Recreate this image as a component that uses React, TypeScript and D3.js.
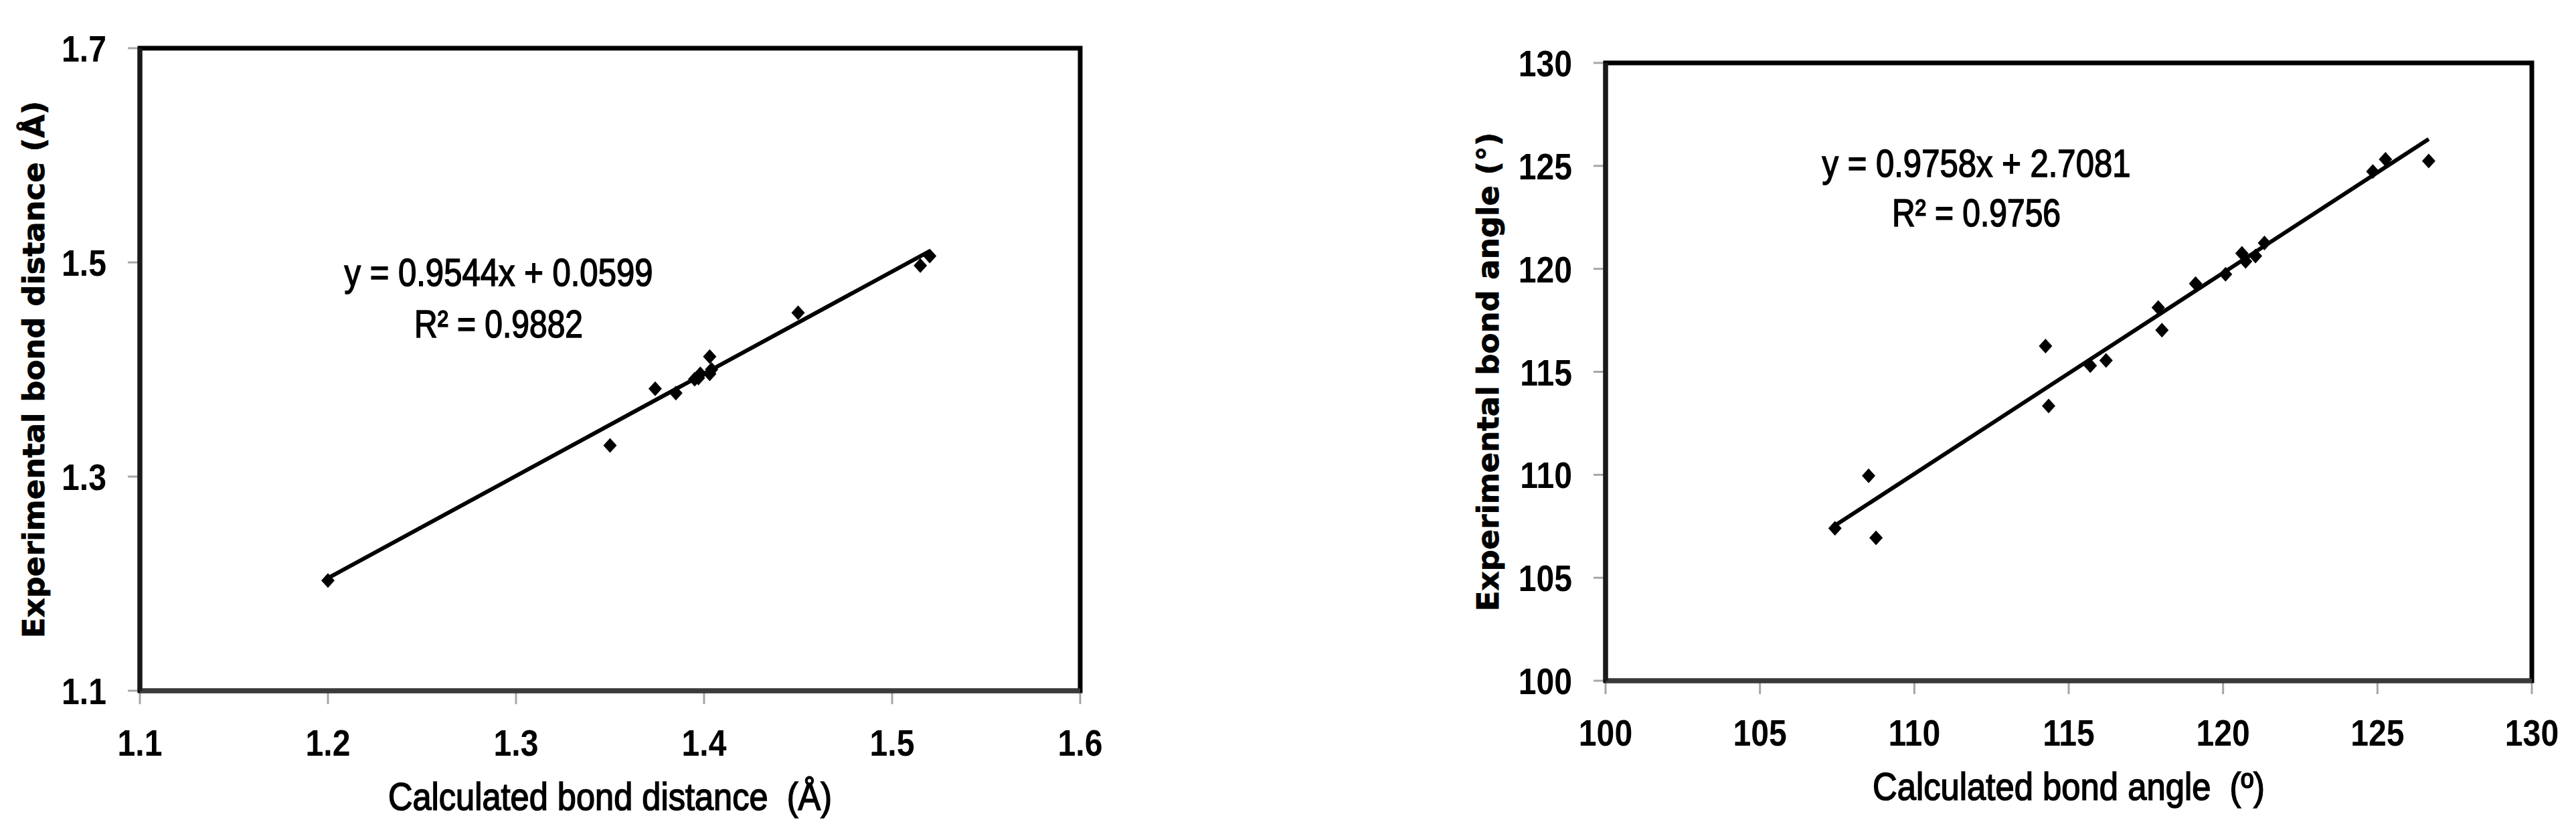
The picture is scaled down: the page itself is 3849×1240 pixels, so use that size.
import React from 'react';
import * as d3 from 'd3';

// bond distances (Å)
const distCalc = [1.2, 1.35, 1.374, 1.385, 1.395, 1.397, 1.398, 1.403, 1.403, 1.404, 1.45, 1.515, 1.52];
const distExp = [1.203, 1.329, 1.382, 1.378, 1.391, 1.392, 1.396, 1.412, 1.396, 1.4, 1.453, 1.497, 1.506];
const distXTicks = [1.1, 1.2, 1.3, 1.4, 1.5, 1.6];
const distYTicks = [1.1, 1.3, 1.5, 1.7];
const distFit = { slope: 0.9544, intercept: 0.0599, r2: 0.9882 };

// bond angles (degrees)
const angleCalc = [107.43, 108.52, 108.76, 114.25, 114.35, 115.7, 116.21, 117.9, 118.02, 119.11, 120.08, 120.61, 120.73, 121.05, 121.34, 124.85, 125.26, 126.66];
const angleExp = [107.4, 109.95, 106.94, 116.25, 113.34, 115.3, 115.55, 118.12, 117.02, 119.28, 119.74, 120.75, 120.36, 120.62, 121.26, 124.73, 125.32, 125.24];
const angleTicks = [100, 105, 110, 115, 120, 125, 130];
const angleFit = { slope: 0.9758, intercept: 2.7081, r2: 0.9756 };

const SANS = "'Liberation Sans', Arial, sans-serif";
const WIDE = "'DejaVu Sans', Verdana, sans-serif";

// excel-style diamond marker
const diamondType = {
  draw(ctx: any) {
    const w = 10, h = 11;
    ctx.moveTo(0, -h);
    ctx.lineTo(w, 0);
    ctx.lineTo(0, h);
    ctx.lineTo(-w, 0);
    ctx.closePath();
  },
};
const diamondPath = d3.symbol(diamondType as any)() as string;

// condensed text (calibri look-alike)
const NText = ({ x, y, anchor, size, bold, children }: any) => (
  <text transform={`translate(${x},${y}) scale(0.86,1)`} textAnchor={anchor}
    fontFamily={SANS} fontWeight={bold ? 'bold' : 'normal'} fontSize={size}>{children}</text>
);

type PanelProps = {
  box: { left: number; top: number; right: number; bottom: number };
  xs: number[];
  ys: number[];
  xTicks: number[];
  yTicks: number[];
  fmt: (v: number) => string;
  fit: { slope: number; intercept: number; r2: number };
  xLabel: string;
  xLabelW: number;
  yLabel: string;
  yLabelX: number;
  eq: { x: number; y1: number; y2: number };
};

const Panel = ({ box, xs, ys, xTicks, yTicks, fmt, fit, xLabel, xLabelW, yLabel, yLabelX, eq }: PanelProps) => {
  const x = d3.scaleLinear().domain(d3.extent(xTicks) as [number, number]).range([box.left, box.right]);
  const y = d3.scaleLinear().domain(d3.extent(yTicks) as [number, number]).range([box.bottom, box.top]);
  const [x0, x1] = d3.extent(xs) as [number, number];
  const trend = d3.line<number>()
    .x(d => x(d))
    .y(d => y(fit.slope * d + fit.intercept))([x0, x1]);
  const eqLine = `y = ${fit.slope.toFixed(4)}x + ${fit.intercept.toFixed(4)}`;
  const r2Line = `R² = ${fit.r2.toFixed(4)}`;
  const heavy = { stroke: '#000', strokeWidth: 1.6 };

  return (
    <g>
      {/* ticks */}
      {xTicks.map(t => (
        <line key={'xt' + t} x1={x(t)} x2={x(t)} y1={box.bottom} y2={box.bottom + 20} stroke="#a6a6a6" strokeWidth={3} />
      ))}
      {yTicks.map(t => (
        <line key={'yt' + t} x1={box.left - 18} x2={box.left} y1={y(t)} y2={y(t)} stroke="#a6a6a6" strokeWidth={3} />
      ))}
      {/* plot frame */}
      <rect x={box.left} y={box.top} width={box.right - box.left} height={box.bottom - box.top}
        fill="none" stroke="#000" strokeWidth={7} />
      <line x1={box.left} x2={box.right} y1={box.bottom} y2={box.bottom} stroke="#3a3a3a" strokeWidth={7} />
      <line x1={box.left} x2={box.left} y1={box.top} y2={box.bottom} stroke="#1a1a1a" strokeWidth={7} />

      {/* tick labels */}
      {xTicks.map(t => (
        <NText key={'xl' + t} x={x(t)} y={box.bottom + 97} anchor="middle" size={56} bold>{fmt(t)}</NText>
      ))}
      {yTicks.map(t => (
        <NText key={'yl' + t} x={box.left - 50} y={y(t) + 20} anchor="end" size={56} bold>{fmt(t)}</NText>
      ))}

      {/* trendline and points */}
      <path d={trend ?? ''} stroke="#000" strokeWidth={6} fill="none" />
      {xs.map((v, i) => (
        <path key={'p' + i} d={diamondPath} transform={`translate(${x(v)},${y(ys[i])})`} fill="#000" />
      ))}

      {/* equation */}
      <text x={eq.x} y={eq.y1} textAnchor="middle" fontFamily={SANS} fontSize={57} {...heavy}
        textLength={461} lengthAdjust="spacingAndGlyphs">{eqLine}</text>
      <text x={eq.x} y={eq.y2} textAnchor="middle" fontFamily={SANS} fontSize={57} {...heavy}
        textLength={252} lengthAdjust="spacingAndGlyphs">{r2Line}</text>

      {/* axis titles */}
      <text x={(box.left + box.right) / 2} y={box.bottom + 178} textAnchor="middle"
        fontFamily={SANS} fontSize={57} {...heavy} textLength={xLabelW} lengthAdjust="spacingAndGlyphs"
        style={{ whiteSpace: 'pre' }}>{xLabel}</text>
      <text transform={`translate(${yLabelX},${(box.top + box.bottom) / 2}) rotate(-90)`} textAnchor="middle"
        fontFamily={WIDE} fontWeight="bold" fontSize={45} stroke="#000" strokeWidth={0.8}>{yLabel}</text>
    </g>
  );
};

export default function App() {
  return (
    <svg width={3849} height={1240} style={{ position: 'absolute', left: 0, top: 0, background: '#fff' }}>
      <rect width={3849} height={1240} fill="#fff" />
      <Panel
        box={{ left: 209, top: 72, right: 1614, bottom: 1032 }}
        xs={distCalc} ys={distExp}
        xTicks={distXTicks} yTicks={distYTicks}
        fmt={d3.format('.1f')}
        fit={distFit}
        xLabel={'Calculated bond distance  (Å)'}
        xLabelW={663}
        yLabel={'Experimental bond distance (Å)'}
        yLabelX={66}
        eq={{ x: 745, y1: 427, y2: 504 }}
      />
      <Panel
        box={{ left: 2399, top: 94, right: 3783, bottom: 1017 }}
        xs={angleCalc} ys={angleExp}
        xTicks={angleTicks} yTicks={angleTicks}
        fmt={d3.format('d')}
        fit={angleFit}
        xLabel={'Calculated bond angle  (º)'}
        xLabelW={586}
        yLabel={'Experimental bond angle  (°)'}
        yLabelX={2239}
        eq={{ x: 2953, y1: 264, y2: 338 }}
      />
    </svg>
  );
}
